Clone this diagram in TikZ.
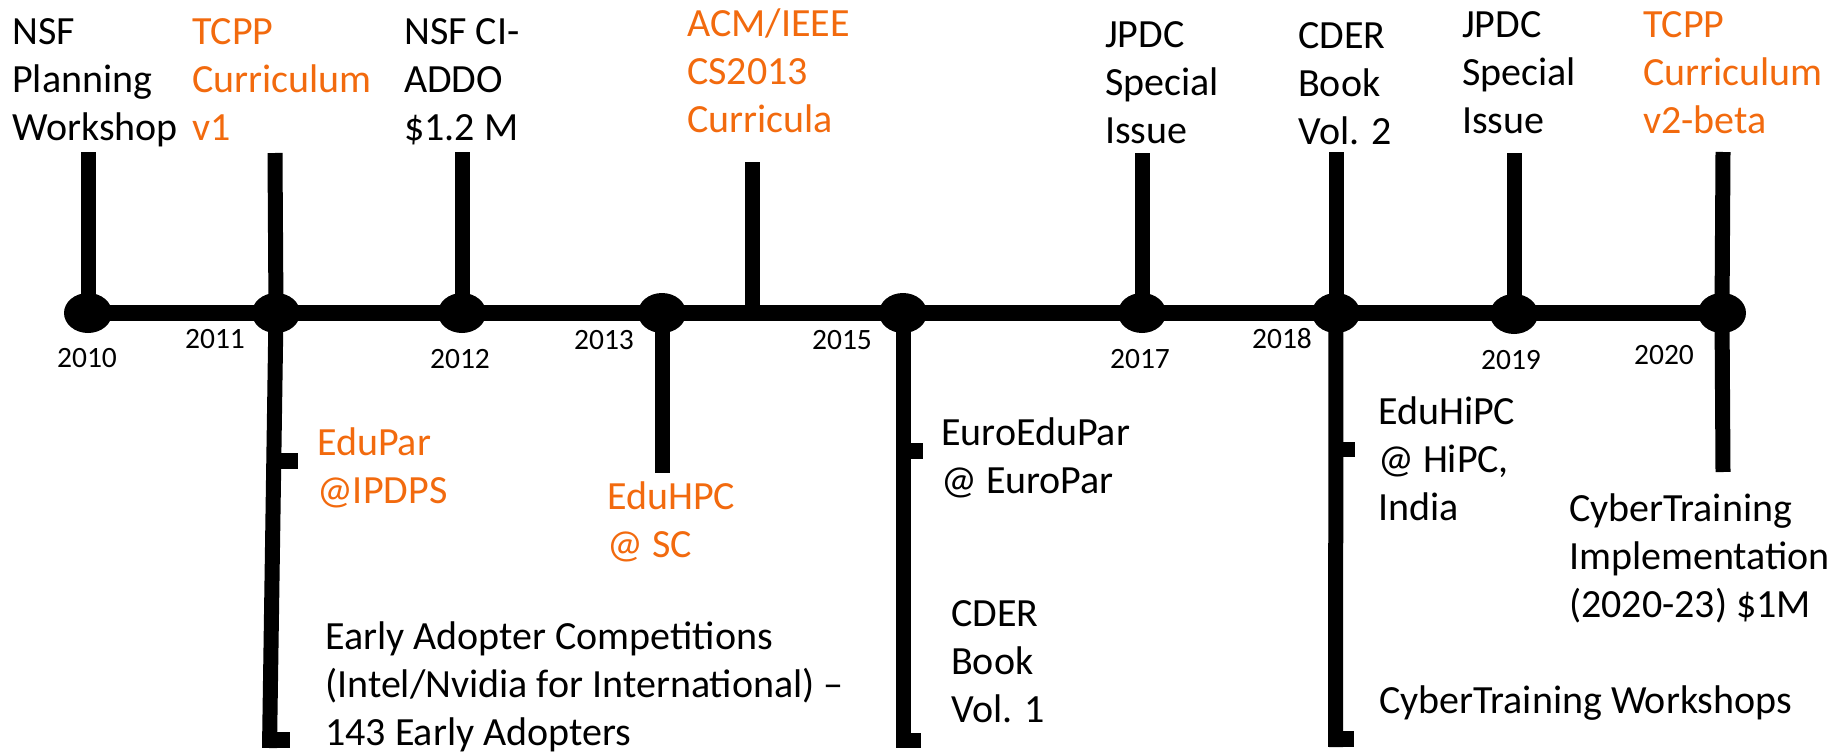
\documentclass[tikz,border=0pt]{standalone}
\usepackage{fontspec}
\setmainfont{Carlito}
\usetikzlibrary{shapes.geometric}
\definecolor{tcorange}{RGB}{242,106,14}
\begin{document}
\begin{tikzpicture}[x=1pt,y=-1pt,
  yr/.style={ellipse, fill=black, minimum width=48pt, minimum height=40pt, inner sep=0pt},
  lbl/.style={anchor=base west, inner sep=0pt, align=left, font=\fontsize{40}{48}\selectfont},
  hl/.style={lbl, text=tcorange},
  yrlbl/.style={anchor=base, inner sep=0pt, font=\fontsize{29.5}{34}\selectfont},
  axisline/.style={line width=16pt},
  tickline/.style={line width=15pt},
]
\useasboundingbox (0,0) rectangle (1845,752);

% year nodes on the axis
\node[yr] (y2010) at (88,313) {};
\node[yr] (y2011) at (276,313) {};
\node[yr] (y2012) at (462,313) {};
\node[yr] (y2013) at (662,313) {};
\node[yr] (y2015) at (903,313) {};
\node[yr] (y2017) at (1142,313) {};
\node[yr] (y2018) at (1336,313) {};
\node[yr] (y2019) at (1514,314) {};
\node[yr] (y2020) at (1722,313) {};

% axis
\draw[axisline] (y2010.center) -- (y2020.center);

% tick end points
\coordinate (t2010) at (88,152);
\coordinate (t2011) at (275,153);
\coordinate (t2012) at (462,152);
\coordinate (acmbase) at (752,313);
\coordinate (tacm) at (752,162);
\coordinate (t2017) at (1142,153);
\coordinate (t2018) at (1336,152);
\coordinate (t2019) at (1514,153);
\coordinate (t2020) at (1723,152);
\coordinate (b2011) at (269.5,748);
\coordinate (b2013) at (662,473);
\coordinate (b2015) at (903,748);
\coordinate (b2018) at (1335.5,747);
\coordinate (b2020) at (1723,472);

% upward ticks
\draw[tickline] (y2010.center) -- (t2010);
\draw[tickline] (y2011.center) -- (t2011);
\draw[tickline] (y2012.center) -- (t2012);
\draw[tickline] (acmbase) -- (tacm);
\draw[tickline] (y2017.center) -- (t2017);
\draw[tickline] (y2018.center) -- (t2018);
\draw[tickline] (y2019.center) -- (t2019);
\draw[tickline] (y2020.center) -- (t2020);

% downward ticks and brackets
\draw[tickline] (y2011.center) -- (b2011);
\draw[tickline] (y2013.center) -- (b2013);
\draw[tickline] (y2015.center) -- (b2015);
\draw[tickline] (y2018.center) -- (b2018);
\draw[tickline] (y2020.center) -- (b2020);

\fill (280,453) rectangle (298,469);
\fill (262,732) rectangle (290,748);
\fill (909,443) rectangle (923,459);
\fill (895.5,733) rectangle (921,748);
\fill (1341,442) rectangle (1355,457);
\fill (1328,731) rectangle (1354,747);

% year labels
\node[yrlbl] (l2010) at (87,367) {2010};
\node[yrlbl] (l2011) at (215,348) {2011};
\node[yrlbl] (l2012) at (460,368) {2012};
\node[yrlbl] (l2013) at (604,349) {2013};
\node[yrlbl] (l2015) at (842,349) {2015};
\node[yrlbl] (l2017) at (1140,368) {2017};
\node[yrlbl] (l2018) at (1282,348) {2018};
\node[yrlbl] (l2019) at (1511,369) {2019};
\node[yrlbl] (l2020) at (1664,364) {2020};

% top labels (anchor = baseline of last line)
\node[lbl] (nsfws) at (12,140) {NSF\\Planning\\Workshop};
\node[hl] (tcpp1) at (192,140) {TCPP\\Curriculum\\v1};
\node[lbl] (ciaddo) at (404,140) {NSF CI-\\ADDO\\\$1.2 M};
\node[hl] (acm) at (687,132) {ACM/IEEE\\CS2013\\Curricula};
\node[lbl] (jpdc1) at (1105,143) {JPDC\\Special\\Issue};
\node[lbl] (cder2) at (1298,144) {CDER\\Book\\Vol. 2};
\node[lbl] (jpdc2) at (1462,133) {JPDC\\Special\\Issue};
\node[hl] (tcpp2) at (1643,133) {TCPP\\Curriculum\\v2-beta};

% bottom labels
\node[hl] (edupar) at (317,503) {EduPar\\@IPDPS};
\node[hl] (eduhpc) at (607,557) {EduHPC\\@ SC};
\node[lbl] (early) at (325,745) {Early Adopter Competitions\\(Intel/Nvidia for International) –\\143 Early Adopters};
\node[lbl] (euroedupar) at (941,493) {EuroEduPar\\@ EuroPar};
\node[lbl] (cder1) at (951,722) {CDER\\Book\\Vol. 1};
\node[lbl] (eduhipc) at (1378,520) {EduHiPC\\@ HiPC,\\India};
\node[lbl] (cyberimpl) at (1569,617) {CyberTraining\\Implementation\\(2020-23) \$1M};
\node[lbl] (cyberws) at (1379,713) {CyberTraining Workshops};
\end{tikzpicture}
\end{document}
